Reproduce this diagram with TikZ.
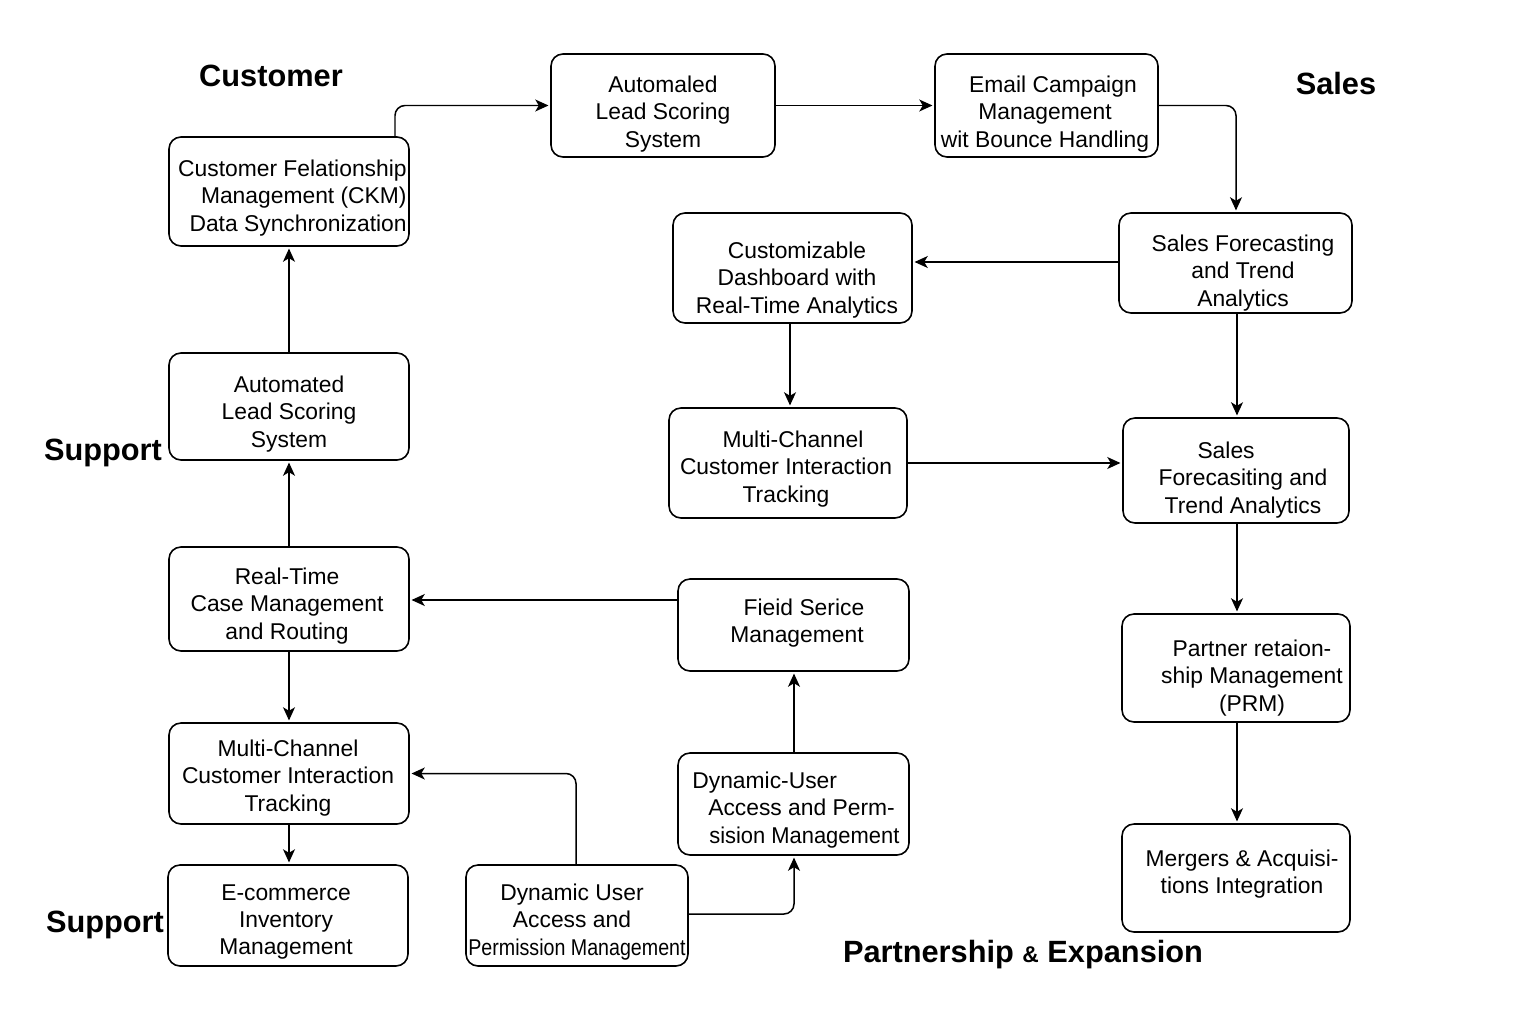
\documentclass[tikz,border=0pt]{standalone}
\usepackage{fontspec}
\setmainfont{Liberation Sans}
\usetikzlibrary{arrows.meta}
\newcommand\pxs[1]{\hspace*{#1\dimexpr 0.567pt\relax}}
\begin{document}
\begin{tikzpicture}[x=0.02cm,y=-0.02cm,
  box/.style={draw, line width=0.9pt, rounded corners=0.24cm, inner sep=0pt},
  txt/.style={align=center, inner sep=0pt, yshift=-0.06cm, font=\fontsize{13}{15.6}\selectfont},
  ttl/.style={yshift=-0.06cm, font=\fontsize{17.5}{20}\selectfont\bfseries},
  arr/.style={line width=0.85pt, -{Stealth[length=7.5pt,width=6.8pt,inset=2pt]}, shorten >=1pt, rounded corners=0.2cm}]
\useasboundingbox (0,0) rectangle (1536,1024);
\fill[white] (0,0) rectangle (1536,1024);
% boxes
\node[box, minimum width=240*0.02cm, minimum height=109*0.02cm] (crm) at (289,191.5) {};
\node[box, minimum width=224*0.02cm, minimum height=103*0.02cm] (als) at (663,105.5) {};
\node[box, minimum width=223*0.02cm, minimum height=103*0.02cm] (email) at (1046.5,105.5) {};
\node[box, minimum width=233*0.02cm, minimum height=100*0.02cm] (sf1) at (1235.5,263) {};
\node[box, minimum width=239*0.02cm, minimum height=110*0.02cm] (dash) at (792.5,268) {};
\node[box, minimum width=238*0.02cm, minimum height=110*0.02cm] (mcm) at (788,463) {};
\node[box, minimum width=226*0.02cm, minimum height=105*0.02cm] (sf2) at (1236,470.5) {};
\node[box, minimum width=228*0.02cm, minimum height=108*0.02cm] (prm) at (1236,668) {};
\node[box, minimum width=228*0.02cm, minimum height=108*0.02cm] (ma) at (1236,878) {};
\node[box, minimum width=240*0.02cm, minimum height=107*0.02cm] (al) at (289,406.5) {};
\node[box, minimum width=240*0.02cm, minimum height=104*0.02cm] (rt) at (289,599) {};
\node[box, minimum width=240*0.02cm, minimum height=101*0.02cm] (ml) at (289,773.5) {};
\node[box, minimum width=240*0.02cm, minimum height=101*0.02cm] (ec) at (288,915.5) {};
\node[box, minimum width=222*0.02cm, minimum height=101*0.02cm] (du) at (577,915.5) {};
\node[box, minimum width=231*0.02cm, minimum height=102*0.02cm] (dyn) at (793.5,804) {};
\node[box, minimum width=231*0.02cm, minimum height=92*0.02cm] (fs) at (793.5,625) {};
% texts
\node[txt, align=right, anchor=east] (t-crm) at (407,195) {Customer Felationship\\Management (CKM)\\Data Synchronization};
\node[txt] (t-als) at (663,111) {Automaled\\Lead Scoring\\System};
\node[txt] (t-email) at (1045,111) {\pxs{16}Email Campaign\\Management\\wit Bounce Handling};
\node[txt] (t-sf1) at (1243,270) {Sales Forecasting\\and Trend\\Analytics};
\node[txt] (t-dash) at (797,277) {Customizable\\Dashboard with\\Real-Time Analytics};
\node[txt] (t-mcm) at (786,466) {\pxs{14}Multi-Channel\\Customer Interaction\\Tracking};
\node[txt] (t-sf2) at (1243,477) {Sales\pxs{34}\\Forecasiting and\\Trend Analytics};
\node[txt] (t-prm) at (1252,675) {Partner retaion-\\ship Management\\(PRM)};
\node[txt] (t-ma) at (1242,871) {Mergers \& Acquisi-\\tions Integration};
\node[txt] (t-al) at (289,411) {Automated\\Lead Scoring\\System};
\node[txt] (t-rt) at (287,603) {Real-Time\\Case Management\\and Routing};
\node[txt] (t-ml) at (288,775) {Multi-Channel\\Customer Interaction\\Tracking};
\node[txt] (t-ec) at (286,919) {E-commerce\\Inventory\\Management};
\node[txt] (t-du) at (572,919) {Dynamic User\\Access and\\\pxs{10}\scalebox{0.86}[1]{Permission Management}};
\node[txt, align=left, anchor=west] (t-dyn) at (692,807) {Dynamic-User\\\pxs{16}Access and Perm-\\\pxs{17}\scalebox{0.96}[1]{sision Management}};
\node[txt] (t-fs) at (797,620) {\pxs{14}Fieid Serice\\Management};
% titles
\node[ttl] (tcust) at (271,73) {Customer};
\node[ttl] (tsales) at (1336,81) {Sales};
\node[ttl] (tsup1) at (103,450) {Support};
\node[ttl] (tsup2) at (105,922) {Support};
\node[ttl] (tpart) at (1023,952) {Partnership {\fontsize{13}{15}\selectfont\&} Expansion};
% connectors
\draw[arr] (crm.north -| 395,0) |- (als.west);
\draw[arr] (als.east) -- (email.west);
\draw[arr] (email.east) -| (sf1.north -| 1236,0);
\draw[arr] (sf1.west |- 0,262) -- (dash.east |- 0,262);
\draw[arr] (dash.south -| 790,0) -- (mcm.north -| 790,0);
\draw[arr] (sf1.south -| 1237,0) -- (sf2.north -| 1237,0);
\draw[arr] (mcm.east) -- (sf2.west |- mcm.east);
\draw[arr] (sf2.south -| 1237,0) -- (prm.north -| 1237,0);
\draw[arr] (prm.south -| 1237,0) -- (ma.north -| 1237,0);
\draw[arr] (fs.west |- 0,600) -- (rt.east |- 0,600);
\draw[arr] (rt.north) -- (al.south);
\draw[arr] (al.north) -- (crm.south);
\draw[arr] (rt.south) -- (ml.north);
\draw[arr] (ml.south) -- (ec.north -| ml.south);
\draw[arr] (du.north -| 576,0) |- (ml.east);
\draw[arr] (du.east |- 0,914) -| (dyn.south -| 794,0);
\draw[arr] (dyn.north -| 794,0) -- (fs.south -| 794,0);
\end{tikzpicture}
\end{document}
